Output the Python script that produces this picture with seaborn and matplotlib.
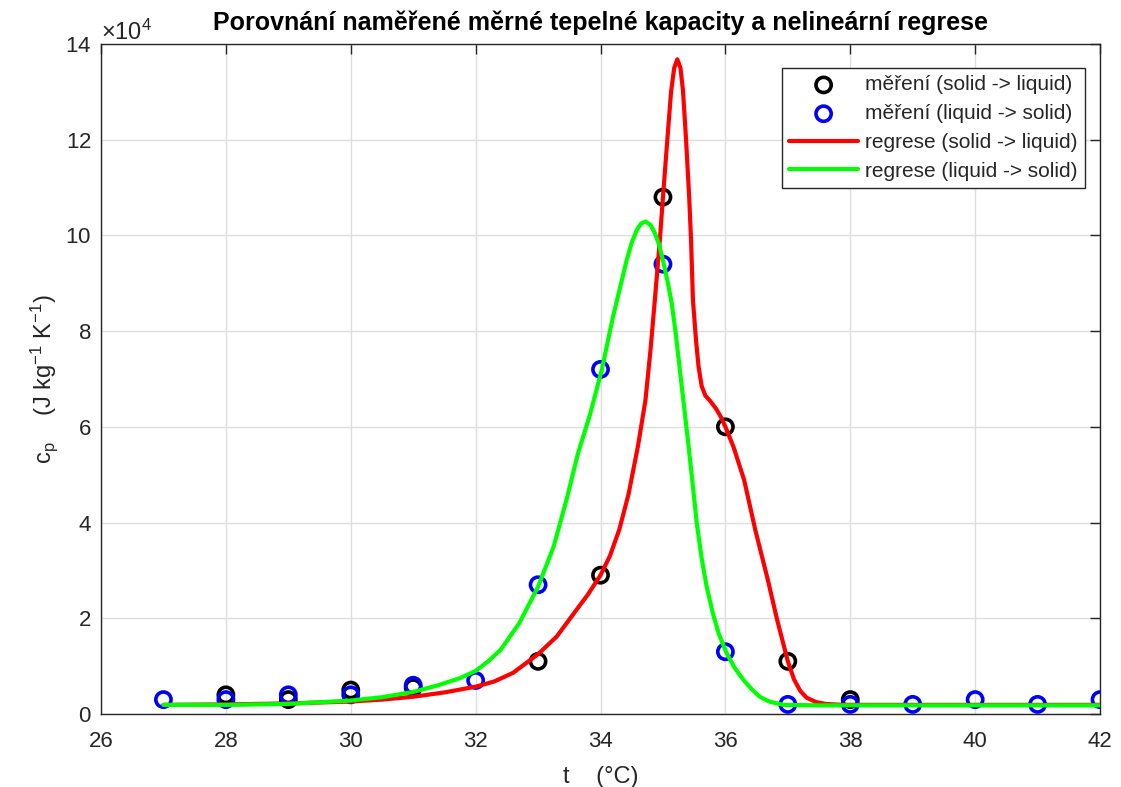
import numpy as np
import seaborn as sns
import matplotlib.pyplot as plt

# measured points
t_meas_sl = [28, 29, 30, 31, 33, 34, 35, 36, 37, 38]
cp_meas_sl = [4000, 3000, 5000, 5500, 11000, 29000, 108000, 60000, 11000, 3000]

t_meas_ls = [27, 28, 29, 30, 31, 32, 33, 34, 35, 36, 37, 38, 39, 40, 41, 42]
cp_meas_ls = [3000, 3000, 4000, 4000, 6000, 7000, 27000, 72000, 94000, 13000,
              2000, 2000, 2000, 3000, 2000, 3000]

# regression curves (cp in 1e4)
t_reg_sl = [27.0, 28.0, 29.0, 30.0, 30.5, 31.0, 31.5, 32.0, 32.3, 32.6, 33.0, 33.3,
            33.6, 33.8, 34.0, 34.15, 34.3, 34.45, 34.6, 34.72, 34.8, 34.87, 34.95,
            35.0, 35.07, 35.13, 35.18, 35.23, 35.28, 35.32, 35.37, 35.42, 35.45,
            35.48, 35.53, 35.57, 35.62, 35.68, 35.75, 35.85, 35.93, 36.0, 36.13,
            36.3, 36.48, 36.68, 36.83, 37.0, 37.1, 37.2, 37.3, 37.45, 37.6, 37.8,
            38.0, 40.0, 42.0]
cp_reg_sl = [0.19, 0.20, 0.22, 0.26, 0.30, 0.36, 0.45, 0.57, 0.68, 0.86, 1.25, 1.62,
             2.15, 2.50, 2.90, 3.30, 3.85, 4.60, 5.60, 6.56, 7.60, 8.65, 9.90,
             10.8, 12.0, 13.0, 13.5, 13.68, 13.5, 13.04, 12.0, 10.8, 9.9,
             8.65, 7.8, 7.26, 6.85, 6.65, 6.55, 6.38, 6.2, 6.0, 5.58,
             4.89, 3.84, 2.80, 1.96, 1.10, 0.72, 0.48, 0.34, 0.25, 0.21, 0.195,
             0.19, 0.19, 0.19]

t_reg_ls = [27.0, 28.0, 29.0, 30.0, 30.5, 31.0, 31.4, 31.75, 32.0, 32.2, 32.4, 32.7,
            33.0, 33.25, 33.46, 33.64, 33.83, 34.02, 34.2, 34.32, 34.42, 34.5, 34.58,
            34.65, 34.72, 34.8, 34.87, 34.94, 35.01, 35.08, 35.14, 35.2, 35.27,
            35.34, 35.41, 35.48, 35.54, 35.62, 35.7, 35.8, 35.89, 36.02, 36.15,
            36.29, 36.42, 36.55, 36.7, 36.93, 37.5, 42.0]
cp_reg_ls = [0.19, 0.19, 0.21, 0.28, 0.35, 0.46, 0.60, 0.75, 0.90, 1.10, 1.34, 1.90,
             2.66, 3.50, 4.50, 5.45, 6.25, 7.19, 8.30, 8.95, 9.49, 9.85, 10.11,
             10.25, 10.29, 10.22, 10.05, 9.80, 9.42, 9.00, 8.58, 8.00, 7.20,
             6.40, 5.60, 4.75, 4.00, 3.25, 2.66, 2.10, 1.69, 1.27, 0.96,
             0.71, 0.52, 0.36, 0.26, 0.19, 0.18, 0.18]

xticks = np.arange(26, 43, 2)
yticks = np.arange(0, 140001, 20000)

sns.set_style("whitegrid")
plt.rcParams['font.family'] = ['Liberation Sans', 'DejaVu Sans']
plt.rcParams['mathtext.default'] = 'regular'

dark = '#262626'

fig = plt.figure(figsize=(11.21, 7.87), dpi=100)
ax = fig.add_axes([0.0901, 0.0928, 0.8912, 0.8513])

sns.scatterplot(x=t_meas_sl, y=cp_meas_sl, ax=ax, marker='o', s=120,
                facecolor='none', edgecolor='black', linewidth=2.6,
                label='měření (solid -> liquid)', zorder=3)
sns.scatterplot(x=t_meas_ls, y=cp_meas_ls, ax=ax, marker='o', s=120,
                facecolor='none', edgecolor='blue', linewidth=2.6,
                label='měření (liquid -> solid)', zorder=3)
sns.lineplot(x=t_reg_sl, y=np.array(cp_reg_sl) * 1e4, ax=ax, color='red', lw=3,
             estimator=None, label='regrese (solid -> liquid)', zorder=4)
sns.lineplot(x=t_reg_ls, y=np.array(cp_reg_ls) * 1e4, ax=ax, color='#00ff00', lw=3,
             estimator=None, label='regrese (liquid -> solid)', zorder=5)

ax.set_xlim(26, 42)
ax.set_ylim(0, 140000)
ax.set_xticks(xticks)
ax.set_yticks(yticks)
ax.ticklabel_format(axis='y', style='sci', scilimits=(4, 4), useMathText=True)
ax.yaxis.get_offset_text().set_fontsize(17)
ax.yaxis.get_offset_text().set_color(dark)

ax.grid(True, color='#dedede', linewidth=1.0)
ax.tick_params(axis='both', direction='in', length=7, width=1, colors=dark,
               labelsize=16, top=True, right=True)
ax.tick_params(axis='x', pad=12)
ax.tick_params(axis='y', pad=7)
for sp in ax.spines.values():
    sp.set_color(dark)
    sp.set_linewidth(1.0)
    sp.set_visible(True)

ax.set_title('Porovnání naměřené měrné tepelné kapacity a nelineární regrese',
             fontsize=18, fontweight='bold', color='black', pad=10)
ax.set_xlabel('t    (°C)', fontsize=17, color=dark, labelpad=10)
ax.set_ylabel('c$_p$    (J kg$^{-1}$ K$^{-1}$)', fontsize=17, color=dark, labelpad=4)

leg = ax.legend(loc='upper right', bbox_to_anchor=(0.985, 0.964), borderaxespad=0,
                fontsize=15, frameon=True, fancybox=False, framealpha=1,
                edgecolor=dark, handlelength=3.3, labelspacing=0.47,
                handletextpad=0.35, borderpad=0.35)
leg.get_frame().set_linewidth(1.0)

plt.savefig('out.png', dpi=100)
